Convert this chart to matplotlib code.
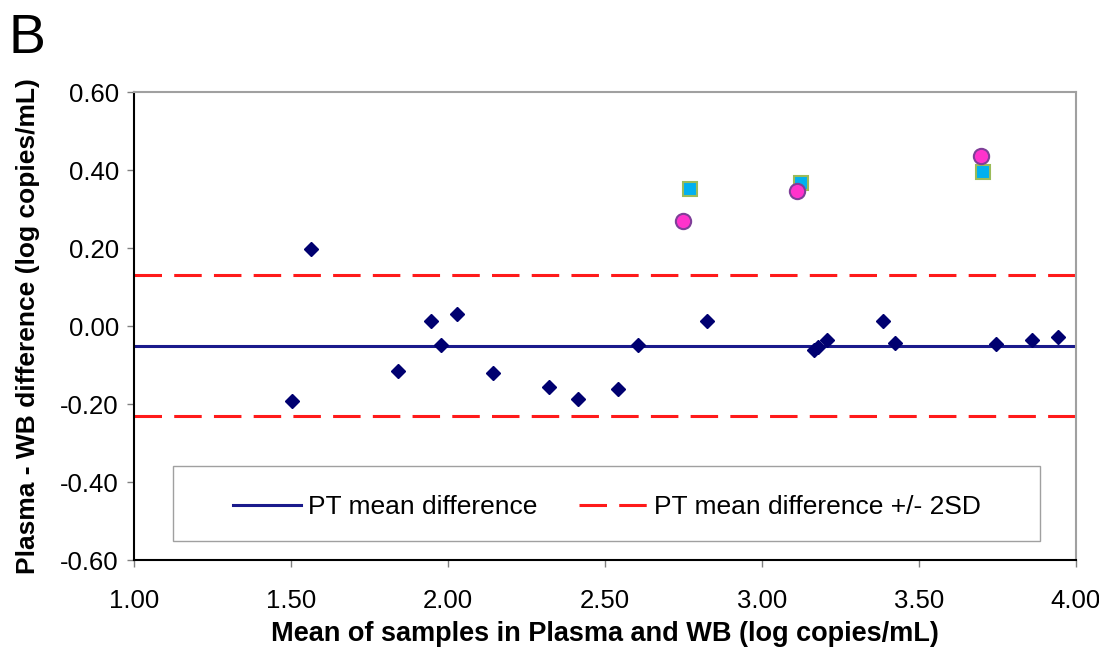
import numpy as np
import matplotlib.pyplot as plt
from matplotlib.patches import Rectangle
from matplotlib.lines import Line2D

plt.rcParams['font.family'] = ['Liberation Sans', 'DejaVu Sans']

# PT samples (diamonds)
pt_mean = [1.502, 1.563, 1.840, 1.945, 1.978, 2.028, 2.142, 2.322, 2.415, 2.541,
           2.604, 2.826, 3.166, 3.180, 3.208, 3.386, 3.424, 3.747, 3.861, 3.943]
pt_diff = [-0.192, 0.199, -0.114, 0.013, -0.049, 0.030, -0.121, -0.157, -0.187, -0.161,
           -0.049, 0.013, -0.062, -0.053, -0.036, 0.013, -0.044, -0.047, -0.036, -0.027]

# other samples (squares and circles)
sq_mean = [2.771, 3.123, 3.705]
sq_diff = [0.351, 0.366, 0.395]
ci_mean = [2.749, 3.111, 3.699]
ci_diff = [0.270, 0.347, 0.436]

mean_diff = -0.05
upper_lim = 0.13
lower_lim = -0.23

xticks = [1.0, 1.5, 2.0, 2.5, 3.0, 3.5, 4.0]
yticks = [-0.6, -0.4, -0.2, 0.0, 0.2, 0.4, 0.6]

fig = plt.figure(figsize=(10.99, 6.49), dpi=100)
ax = fig.add_axes([0.122, 0.137, 0.857, 0.721])

ax.axhline(mean_diff, color='#1a1a8c', lw=2.2, zorder=2)
ax.axhline(upper_lim, color='#ff1a1a', lw=2.2, dashes=(9, 4), zorder=2)
ax.axhline(lower_lim, color='#ff1a1a', lw=2.2, dashes=(9, 4), zorder=2)

ax.plot(pt_mean, pt_diff, 'D', color='#000070', ms=7.5, zorder=3)
ax.plot(sq_mean, sq_diff, 's', mfc='#00b0f0', mec='#9bbb59', mew=1.5, ms=10, zorder=3)
ax.plot(ci_mean, ci_diff, 'o', mfc='#ff33cc', mec='#7f3f98', mew=1.5, ms=11, zorder=4)

ax.set_xlim(1.0, 4.0)
ax.set_ylim(-0.6, 0.6)
ax.set_xticks(xticks)
ax.set_yticks(yticks)
ax.set_xticklabels(['%.2f' % v for v in xticks])
ax.set_yticklabels(['%.2f' % v for v in yticks])
ax.tick_params(labelsize=18.5, length=5, width=1, color='#808080', direction='out')
ax.tick_params(axis='x', pad=16)
ax.tick_params(axis='y', pad=6)

for s in ['top', 'right']:
    ax.spines[s].set_color('#a0a0a0')
    ax.spines[s].set_linewidth(1.5)
for s in ['left', 'bottom']:
    ax.spines[s].set_color('black')
    ax.spines[s].set_linewidth(1.5)

ax.set_xlabel('Mean of samples in Plasma and WB (log copies/mL)', fontsize=19.5,
              fontweight='bold', va='top')
ax.set_ylabel('Plasma - WB difference (log copies/mL)', fontsize=19,
              fontweight='bold')
ax.xaxis.set_label_coords(0.5, -0.13)
ax.yaxis.set_label_coords(-0.1, 0.5)

# legend box
ax.add_patch(Rectangle((0.041, 0.041), 0.921, 0.160, transform=ax.transAxes,
                       facecolor='white', edgecolor='#a0a0a0', lw=1, zorder=5))
handles = [Line2D([], [], color='#1a1a8c', lw=2.2),
           Line2D([], [], color='#ff1a1a', lw=2.2, dashes=(9, 4))]
ax.legend(handles, ['PT mean difference', 'PT mean difference +/- 2SD'],
          loc='center', bbox_to_anchor=(0.502, 0.113), ncol=2, frameon=False,
          fontsize=19, handlelength=2.55, handletextpad=0.27, columnspacing=1.6)
ax.get_legend().set_zorder(6)

fig.text(0.008, 0.98, 'B', fontsize=40, va='top', ha='left')

fig.savefig('out.png', dpi=100)
